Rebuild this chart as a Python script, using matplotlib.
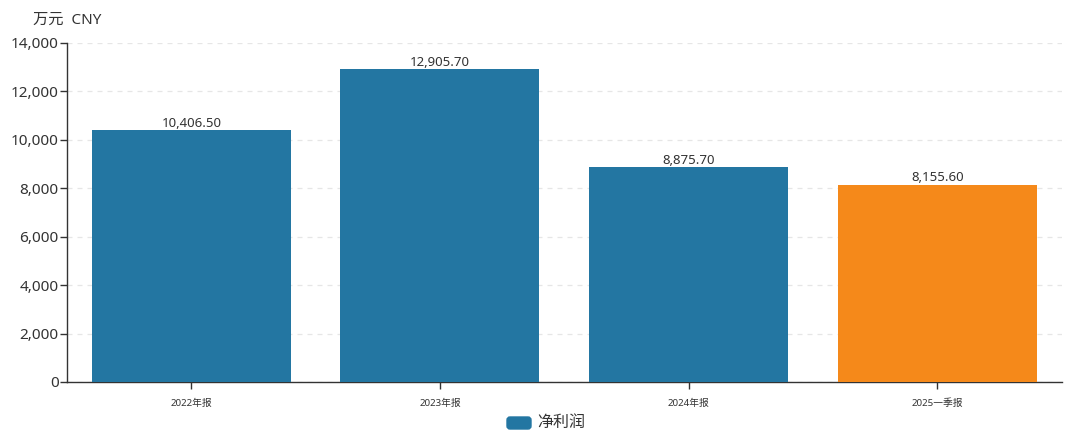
import matplotlib
matplotlib.use("Agg")
import matplotlib.pyplot as plt
from matplotlib.patches import FancyBboxPatch
from matplotlib.transforms import Affine2D

plt.rcParams['font.family'] = ['Noto Sans', 'Noto Sans CJK SC', 'DejaVu Sans']

categories = ["2022年报", "2023年报", "2024年报", "2025一季报"]
values = [10406.50, 12905.70, 8875.70, 8155.60]
colors = ["#2376a2", "#2376a2", "#2376a2", "#f5891a"]
yticks = [0, 2000, 4000, 6000, 8000, 10000, 12000, 14000]
series_name = "净利润"
unit_label = "万元  CNY"

fig = plt.figure(figsize=(10.8, 4.36), dpi=100)
ax = fig.add_axes([0.062, 0.1239, 0.921, 0.7775])

x = list(range(len(categories)))
ax.bar(x, values, width=0.8, color=colors, zorder=3)
for xi, v in zip(x, values):
    ax.text(xi, v + 20, f"{v:,.2f}", ha="center", va="bottom", fontsize=9.5, color="#333333", zorder=4)

ax.set_xlim(-0.5, len(categories) - 0.5)
ax.set_ylim(0, 14000)
ax.set_yticks(yticks)
ax.set_yticklabels([f"{t:,}" for t in yticks], fontsize=11, color="#333333")
ax.set_xticks(x)
ax.set_xticklabels(categories, fontsize=7, color="#333333")
ax.tick_params(axis="y", length=5, width=1, color="#333333", pad=1)
ax.tick_params(axis="x", length=5, width=1, color="#333333", pad=7)

for s in ["top", "right"]:
    ax.spines[s].set_visible(False)
for s in ["left", "bottom"]:
    ax.spines[s].set_color("#333333")
    ax.spines[s].set_linewidth(1)

ax.yaxis.grid(True, linestyle=(0, (4, 4)), color="#e6e6e6", linewidth=0.9, zorder=0)
ax.set_axisbelow(True)

fig.text(33 / 1080, 1 - 20 / 436, unit_label, fontsize=11, color="#333333", ha="left", va="center")

# legend (pixel coordinates)
leg_patch = FancyBboxPatch((507, 436 - 429), 24, 12,
                           boxstyle="round,pad=0,rounding_size=3",
                           transform=Affine2D(), color="#2376a2")
fig.patches.append(leg_patch)
fig.text(537 / 1080, 1 - 423 / 436, series_name, fontsize=11.5, color="#333333", ha="left", va="center")

fig.savefig("out.png", dpi=100)
